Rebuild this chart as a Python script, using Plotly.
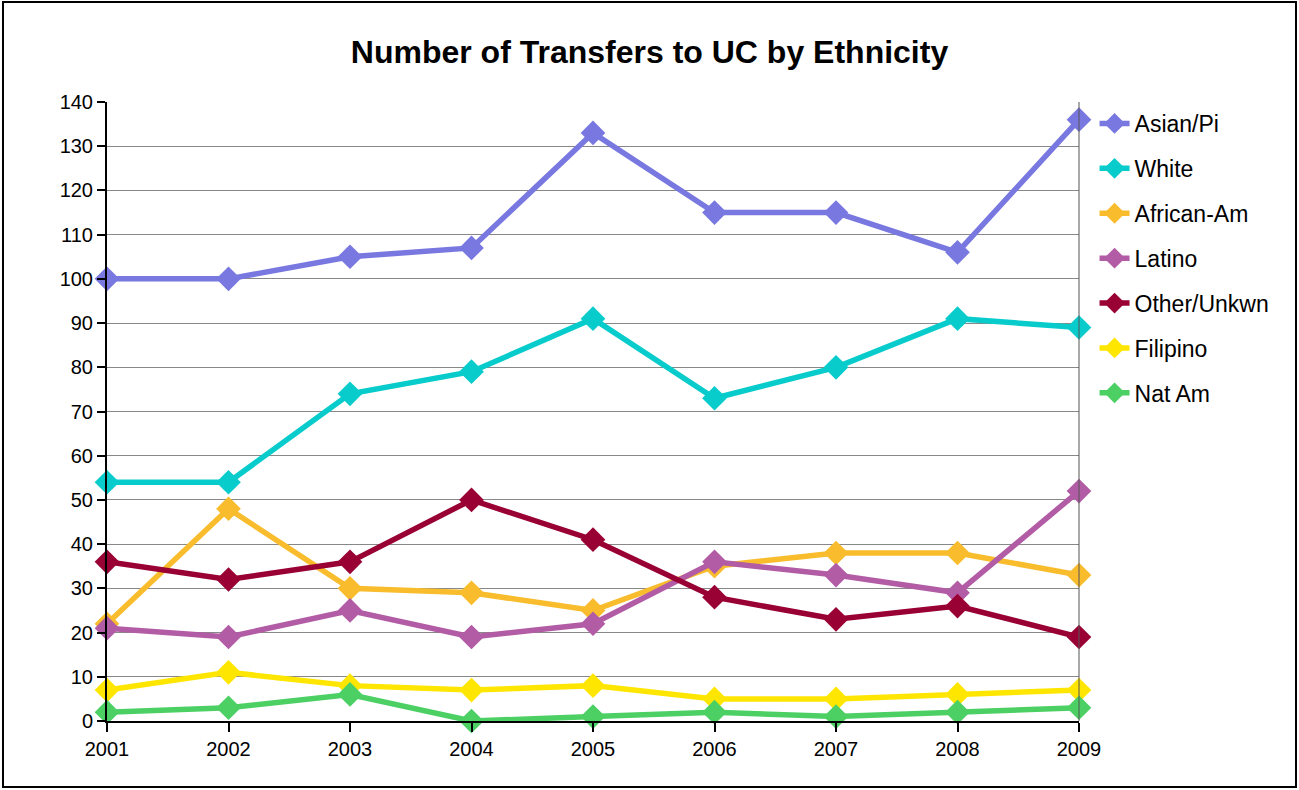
import plotly.graph_objects as go

years = [2001, 2002, 2003, 2004, 2005, 2006, 2007, 2008, 2009]
asian_pi = [100, 100, 105, 107, 133, 115, 115, 106, 136]
white = [54, 54, 74, 79, 91, 73, 80, 91, 89]
african_am = [22, 48, 30, 29, 25, 35, 38, 38, 33]
latino = [21, 19, 25, 19, 22, 36, 33, 29, 52]
other_unkwn = [36, 32, 36, 50, 41, 28, 23, 26, 19]
filipino = [7, 11, 8, 7, 8, 5, 5, 6, 7]
nat_am = [2, 3, 6, 0, 1, 2, 1, 2, 3]

series = [
    ("Asian/Pi", asian_pi, "#7878E0"),
    ("White", white, "#08CCCC"),
    ("African-Am", african_am, "#F8BC2C"),
    ("Latino", latino, "#B25CA6"),
    ("Other/Unkwn", other_unkwn, "#990033"),
    ("Filipino", filipino, "#FFE600"),
    ("Nat Am", nat_am, "#4CD064"),
]

y_ticks = list(range(0, 141, 10))

fig = go.Figure()
for i, (name, vals, col) in enumerate(series):
    fig.add_trace(go.Scatter(
        x=years, y=vals, name=name, mode="lines+markers",
        line=dict(color=col, width=5.5),
        marker=dict(symbol="diamond", size=19, color=col),
        cliponaxis=False, legendgroup=str(i),
    ))

fig.update_layout(
    width=1299, height=790,
    paper_bgcolor="white", plot_bgcolor="white",
    margin=dict(l=107, r=220, t=102, b=69),
    font=dict(family="Liberation Sans, Arial, sans-serif", color="black"),
    title=dict(text="<b>Number of Transfers to UC by Ethnicity</b>",
               x=0.5, xanchor="center", xref="container",
               y=1 - 52 / 790, yanchor="middle",
               font=dict(size=32, color="black")),
    showlegend=True,
    legend=dict(x=1.016, xanchor="left", y=1.0, yanchor="top",
                font=dict(size=23), tracegroupgap=12,
                bgcolor="rgba(0,0,0,0)", itemwidth=30),
    xaxis=dict(range=[2001, 2009], tickvals=years, ticktext=[str(y) for y in years],
               showgrid=False, showline=True, linecolor="black", linewidth=2,
               ticks="outside", ticklen=9, tickwidth=2, tickcolor="black",
               tickfont=dict(size=20), zeroline=False, mirror=False),
    yaxis=dict(range=[0, 140], tickvals=y_ticks,
               showgrid=True, gridcolor="#888888", gridwidth=1,
               showline=True, linecolor="black", linewidth=2,
               ticks="outside", ticklen=8, tickwidth=2, tickcolor="black",
               tickfont=dict(size=20), zeroline=False),
)

# right plot edge line
fig.add_shape(type="line", xref="paper", yref="paper", x0=1, x1=1, y0=0, y1=1,
              line=dict(color="#555555", width=1))
# outer border around the whole chart
pw, ph = 972, 619
fig.add_shape(type="rect", xref="paper", yref="paper",
              x0=(3 - 107) / pw, x1=(1296 - 107) / pw,
              y0=(721 - 787) / ph, y1=(721 - 2) / ph,
              line=dict(color="black", width=2), fillcolor="rgba(0,0,0,0)")

fig.write_html("out.html", config={"displayModeBar": False},
               post_script="document.body.style.margin='0';document.body.style.padding='0';")
